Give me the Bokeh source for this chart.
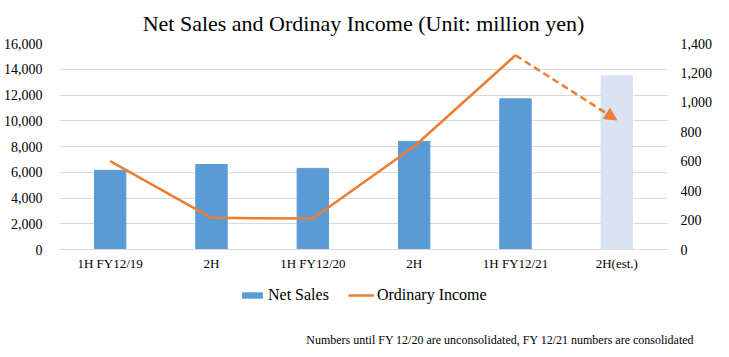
from bokeh.plotting import figure
from bokeh.layouts import column
from bokeh.models import (Range1d, LinearAxis, FixedTicker, NumeralTickFormatter,
                          Legend, LegendItem, Arrow, NormalHead, Label, ColumnDataSource)
from bokeh.embed import file_html
from bokeh.resources import INLINE

categories = ["1H FY12/19", "2H", "1H FY12/20", "2H", "1H FY12/21", "2H(est.)"]
net_sales = [6150, 6600, 6300, 8400, 11700, 13500]
ordinary_income = [600, 215, 210, 700, 1320, 880]
estimate_flags = [False, False, False, False, False, True]
left_ticks = [0, 2000, 4000, 6000, 8000, 10000, 12000, 14000, 16000]
right_ticks = [0, 200, 400, 600, 800, 1000, 1200, 1400]
footnote = "Numbers until FY 12/20 are unconsolidated, FY 12/21 numbers are consolidated"

FONT = "'Liberation Serif'"
BLUE = "#5b9bd5"
LIGHT = "#dae3f3"
ORANGE = "#ed7d31"
GRID = "#d9d9d9"
W = 716

xs = [i + 0.5 for i in range(len(categories))]
bar_colors = [LIGHT if f else BLUE for f in estimate_flags]
src = ColumnDataSource(dict(x=xs, top=net_sales, color=bar_colors))

p = figure(width=W, height=277, output_backend="svg", toolbar_location=None,
           x_range=Range1d(0, len(categories)), y_range=Range1d(0, 16000),
           min_border_left=47, min_border_right=W - 47 - 620, min_border_top=42, min_border_bottom=28)
p.frame_align = False
p.extra_y_ranges = {"oi": Range1d(0, 1400)}
p.outline_line_color = None

p.title.text = "Net Sales and Ordinay Income (Unit: million yen)"
p.title.align = "center"
p.title.text_font = FONT
p.title.text_font_size = "22px"
p.title.text_font_style = "normal"
p.title.text_color = "#000000"
p.title.standoff = 16

p.vbar(x="x", top="top", width=0.31, color="color", source=src)
p.line(xs[:5], ordinary_income[:5], line_color=ORANGE, line_width=2.5, y_range_name="oi")

arrow = Arrow(x_start=xs[4], y_start=ordinary_income[4], x_end=xs[5], y_end=ordinary_income[5],
              y_range_name="oi", line_color=ORANGE, line_width=2.5, line_dash="7 4",
              end=NormalHead(size=12, fill_color=ORANGE, line_color=ORANGE, line_width=1))
p.add_layout(arrow)

p.xaxis.ticker = FixedTicker(ticks=xs)
p.xaxis.major_label_overrides = {x: c for x, c in zip(xs, categories)}
p.xaxis.axis_line_color = GRID
p.xaxis.major_tick_line_color = None
p.xaxis.minor_tick_line_color = None
p.xaxis.major_label_text_font = FONT
p.xaxis.major_label_text_font_size = "13px"
p.xaxis.major_label_text_color = "#000000"
p.xaxis.major_label_standoff = 0

p.yaxis.ticker = FixedTicker(ticks=left_ticks)
p.yaxis.formatter = NumeralTickFormatter(format="0,0")
p.yaxis.axis_line_color = None
p.yaxis.major_tick_line_color = None
p.yaxis.minor_tick_line_color = None
p.yaxis.major_label_text_font = FONT
p.yaxis.major_label_text_font_size = "14px"
p.yaxis.major_label_text_color = "#000000"
p.yaxis.major_label_standoff = 11

raxis = LinearAxis(y_range_name="oi", ticker=FixedTicker(ticks=right_ticks),
                   formatter=NumeralTickFormatter(format="0,0"))
raxis.axis_line_color = None
raxis.major_tick_line_color = None
raxis.minor_tick_line_color = None
raxis.major_label_text_font = FONT
raxis.major_label_text_font_size = "14px"
raxis.major_label_text_color = "#000000"
raxis.major_label_standoff = 7
p.add_layout(raxis, "right")

p.xgrid.grid_line_color = None
p.ygrid.grid_line_color = GRID
p.ygrid.grid_line_width = 1

# lower strip: legend and footnote (legend proxies share the data but lie far outside the view)
q = figure(width=W, height=75, output_backend="svg", toolbar_location=None,
           x_range=Range1d(1000, 1000 + len(categories)), y_range=Range1d(1e6, 1e6 + 16000),
           x_axis_location=None, y_axis_location=None,
           min_border_left=0, min_border_right=0, min_border_top=0, min_border_bottom=0)
q.frame_align = False
q.outline_line_color = None
q.xgrid.grid_line_color = None
q.ygrid.grid_line_color = None
q.extra_y_ranges = {"oi": Range1d(1e6, 1e6 + 1400)}

leg_bar = q.vbar(x=xs, top=net_sales, width=0, fill_color=BLUE, line_color=None)
leg_line = q.line(x=xs, y=ordinary_income, line_color=ORANGE, line_width=2.5, y_range_name="oi")

legend = Legend(items=[LegendItem(label="Net Sales", renderers=[leg_bar]),
                       LegendItem(label="Ordinary Income", renderers=[leg_line])],
                orientation="horizontal", location=(239, 48),
                padding=0, margin=0, spacing=19, label_standoff=3,
                glyph_width=26, glyph_height=8, label_height=16,
                label_text_font=FONT, label_text_font_size="16px",
                label_text_color="#000000",
                background_fill_alpha=0, border_line_color=None)
q.add_layout(legend, "center")

note = Label(x=694, y=13, x_units="screen", y_units="screen", text=footnote,
             text_font=FONT, text_font_size="12px", text_align="right",
             text_baseline="middle", text_color="#000000")
q.add_layout(note)

layout = column(p, q, spacing=0)
open("out.html", "w").write(file_html(layout, INLINE))
